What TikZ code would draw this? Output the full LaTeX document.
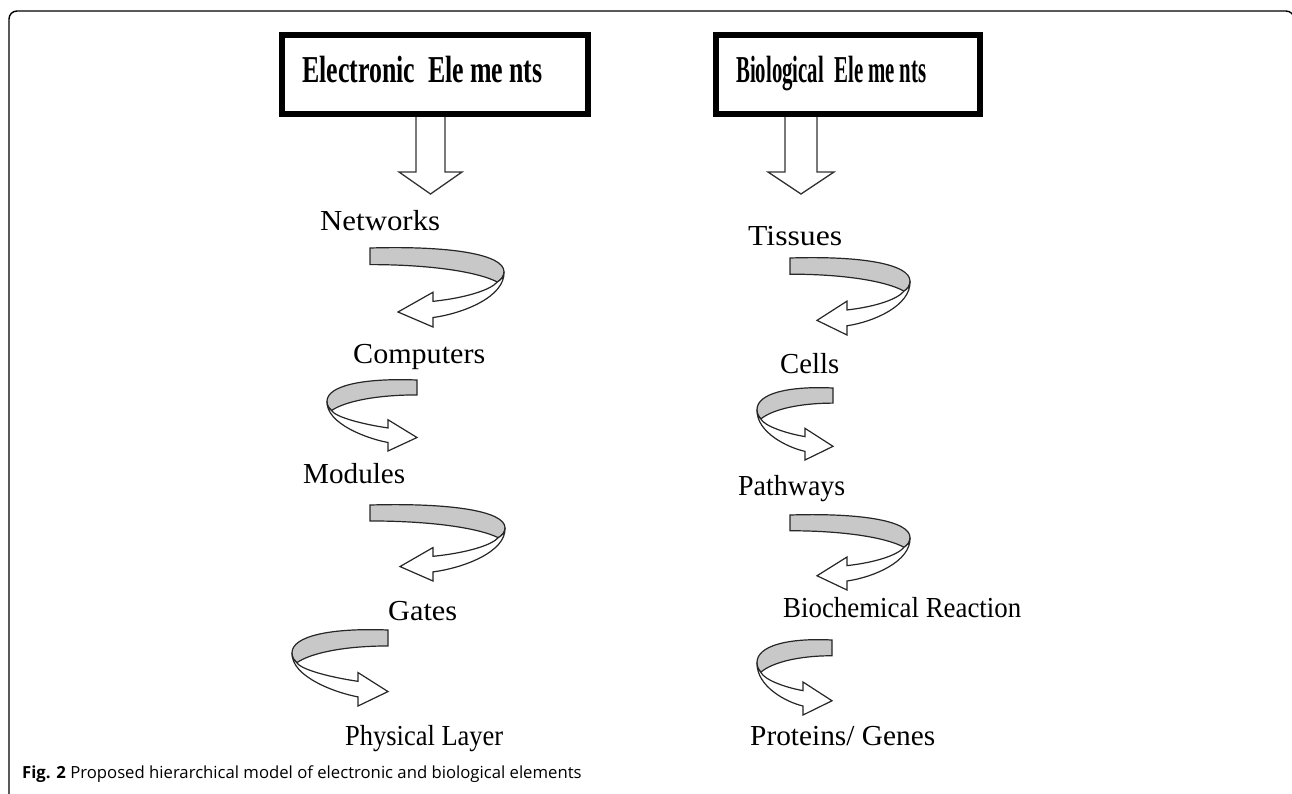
\documentclass[tikz,border=0pt]{standalone}
\usepackage{fontspec}
\setmainfont{Liberation Serif}
\newfontfamily\boxfont[FakeStretch=0.72]{Liberation Serif Bold}
\newfontfamily\capfont{Open Sans}
\usetikzlibrary{calc}

\definecolor{bandgray}{RGB}{200,200,200}

\tikzset{
  frame/.style={line width=1.4pt, rounded corners=8pt},
  headbox/.style={draw, line width=6pt, minimum width=306pt, minimum height=79pt, inner sep=0pt},
  headtext/.style={anchor=base west, inner sep=0pt, font=\boxfont\fontsize{38}{40}\selectfont},
  level/.style={anchor=base west, inner sep=0pt, font=\fontsize{29}{32}\selectfont},
  blockarrow/.style={draw=black!80, fill=white, line width=1.3pt, line join=miter},
  bandback/.style={draw=black!85, fill=bandgray, line width=1.2pt},
  bandfront/.style={draw=black!85, fill=white, line width=1.2pt, line join=miter},
}

% a label set to a given width, keeping its height
\newcommand\fitw[2]{\resizebox{#1pt}{\height}{#2}}

% A ribbon arrow wrapping around a post.
% #1 x of the loose end, #2 x of the turn, #3 top y, #4 bottom y,
% #5 x of the head base, #6 x of the tip
\newcommand\curlarrow[6]{%
  \pgfmathsetmacro\ub{(#5-#1)/(#2-#1)}%
  \pgfmathsetmacro\ut{(#6-#1)/(#2-#1)}%
  \pgfmathsetmacro\ubb{\ub+0.22}%
  \pgfmathsetmacro\ubc{\ub+0.25}%
  \begin{scope}[shift={(#1,#3)}, xscale={#2-#1}, yscale={#4-#3}]
    \filldraw[bandback] (0,0) .. controls (0.6,-0.03) and (1,0.08) .. (1,0.30)
       .. controls (1,0.36) and (0.98,0.40) .. (0.95,0.43)
       .. controls (0.8,0.30) and (0.45,0.21) .. (0,0.21) -- cycle;
    \filldraw[bandfront] (1,0.30) .. controls (1.01,0.62) and (\ubb,0.83) .. (\ub,0.88)
       -- (\ub,1) -- (\ut,0.81) -- (\ub,0.56) -- (\ub,0.675)
       .. controls (\ubc,0.63) and (0.9,0.53) .. (0.95,0.43)
       .. controls (0.98,0.40) and (1,0.36) .. (1,0.30) -- cycle;
  \end{scope}}

\begin{document}
\begin{tikzpicture}[x=1pt, y=-1pt]
  \useasboundingbox (0,0) rectangle (1292,793);
  \clip (0,0) rectangle (1292,793);

  % outer frame
  \draw[frame] (9,820) -- (9,11) -- (1294,11) -- (1294,820);

  % heading boxes
  \node[headbox] (boxE) at (434.5,74.5) {};
  \node[headtext] (tE) at (302,82) {\fitw{240}{Electronic\ \ Ele\,me\,nts}};
  \node[headbox, minimum width=264pt] (boxB) at (848,74.5) {};
  \node[headtext] (tB) at (736,82) {\fitw{190}{Biological\ \ Ele\,me\,nts}};

  % levels, electronic side
  \node[level] (net)  at (320,230) {\fitw{120}{Networks}};
  \node[level] (comp) at (353,363) {\fitw{132}{Computers}};
  \node[level] (mod)  at (303,483) {\fitw{102}{Modules}};
  \node[level] (gate) at (388,620) {\fitw{69}{Gates}};
  \node[level] (phys) at (345,745) {\fitw{158}{Physical Layer}};

  % levels, biological side
  \node[level] (tis)  at (748,245) {\fitw{94}{Tissues}};
  \node[level] (cell) at (780,373) {\fitw{59}{Cells}};
  \node[level] (path) at (738,495) {\fitw{107}{Pathways}};
  \node[level] (bio)  at (783,617) {\fitw{238}{Biochemical Reaction}};
  \node[level] (prot) at (750,745) {\fitw{185}{Proteins/ Genes}};

  % block arrows from the heading boxes
  \coordinate (eTop) at ($(boxE.south)+(-3,0)$);
  \draw[blockarrow] ($(eTop)+(-15.5,0)$) -- ++(0,55) -- ++(-17,0) -- ++(31.5,22)
     -- ++(31.5,-22) -- ++(-17,0) -- ++(0,-55);
  \coordinate (bTop) at ($(boxB.south)+(-47,0)$);
  \draw[blockarrow] ($(bTop)+(-16,0)$) -- ++(0,55) -- ++(-17,0) -- ++(33,22)
     -- ++(33,-22) -- ++(-17,0) -- ++(0,-55);

  % ribbon arrows, electronic side
  \curlarrow{370}{504}{248}{327}{433}{398}
  \curlarrow{417}{327}{380}{451}{388}{417}
  \curlarrow{370}{505}{505}{581}{433}{400}
  \curlarrow{388}{292}{630}{706}{358}{388}

  % ribbon arrows, biological side
  \curlarrow{790}{910}{258}{335}{847}{817}
  \curlarrow{833}{757}{388}{460}{805}{833}
  \curlarrow{790}{910}{515}{590}{847}{817}
  \curlarrow{832}{757}{640}{715}{803}{832}

  % caption
  \node[anchor=base west, inner sep=0pt, font=\capfont\fontsize{16.7}{18}\selectfont] (cap) at (22,778)
    {\textbf{Fig. 2} Proposed hierarchical model of electronic and biological elements};
\end{tikzpicture}
\end{document}
